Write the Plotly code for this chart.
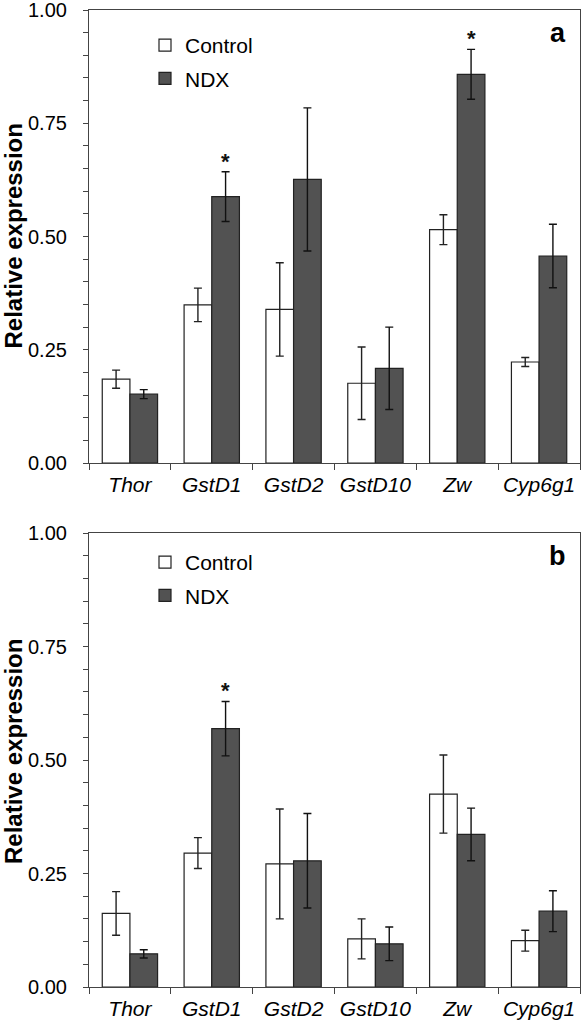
import plotly.graph_objects as go
from plotly.subplots import make_subplots

genes = ["Thor", "GstD1", "GstD2", "GstD10", "Zw", "Cyp6g1"]
gene_labels = ["<i>%s</i>" % g for g in genes]

# Panel a
a_control = [0.185, 0.349, 0.339, 0.176, 0.515, 0.223]
a_control_err = [0.020, 0.037, 0.103, 0.080, 0.033, 0.010]
a_ndx = [0.152, 0.588, 0.626, 0.209, 0.858, 0.457]
a_ndx_err = [0.010, 0.055, 0.158, 0.091, 0.055, 0.070]
a_sig = ["GstD1", "Zw"]

# Panel b
b_control = [0.162, 0.295, 0.271, 0.106, 0.425, 0.102]
b_control_err = [0.048, 0.034, 0.121, 0.044, 0.086, 0.023]
b_ndx = [0.073, 0.569, 0.278, 0.095, 0.336, 0.167]
b_ndx_err = [0.009, 0.060, 0.104, 0.037, 0.058, 0.045]
b_sig = ["GstD1"]

y_ticks = [0.0, 0.25, 0.5, 0.75, 1.0]
y_ticktext = ["0.00", "0.25", "0.50", "0.75", "1.00"]
y_title = "Relative expression"

FONT = "Liberation Sans, Arial, sans-serif"
DARK = "#525252"

W, H = 582, 1026
ML, MR, MT, MB = 89, 2, 10, 39
PW = W - ML - MR
PH = H - MT - MB
top_dom = [1 - 453 / PH, 1.0]
bot_dom = [0.0, 454 / PH]

fig = make_subplots(rows=2, cols=1, vertical_spacing=0.07)

panels = [
    (1, a_control, a_control_err, a_ndx, a_ndx_err, a_sig, "legend", "a", top_dom, 0.0),
    (2, b_control, b_control_err, b_ndx, b_ndx_err, b_sig, "legend2", "b", bot_dom, 8 / PH),
]

for row, ctl, ctl_e, ndx, ndx_e, sig, leg, letter, dom, tshift in panels:
    fig.add_trace(go.Bar(
        x=gene_labels, y=ctl, name="Control",
        marker=dict(color="white", line=dict(color="#222", width=1.2)),
        error_y=dict(type="data", array=ctl_e, color="#222", thickness=1.4, width=4),
        legend=leg, legendgroup="c%d" % row,
    ), row=row, col=1)
    fig.add_trace(go.Bar(
        x=gene_labels, y=ndx, name="NDX",
        marker=dict(color=DARK, line=dict(color="#222", width=1.2)),
        error_y=dict(type="data", array=ndx_e, color="#111", thickness=1.4, width=4),
        legend=leg, legendgroup="n%d" % row,
    ), row=row, col=1)
    xref = "x" if row == 1 else "x2"
    yref = "y" if row == 1 else "y2"
    for g in sig:
        i = genes.index(g)
        fig.add_annotation(
            x=gene_labels[i], y=ndx[i] + ndx_e[i], xref=xref, yref=yref,
            text="<b>*</b>", showarrow=False, xshift=14, yanchor="bottom",
            yshift=-4, font=dict(family=FONT, size=22, color="#111"),
        )
    fig.add_annotation(
        x=1 - 12 / PW, y=dom[1] - 6 / PH,
        xref="paper", yref="paper", text="<b>%s</b>" % letter,
        showarrow=False, xanchor="right", yanchor="top",
        font=dict(family=FONT, size=27, color="black"),
    )
    fig.add_annotation(
        x=(13 - ML) / PW, y=(dom[0] + dom[1]) / 2 + tshift,
        xref="paper", yref="paper", text="<b>%s</b>" % y_title,
        textangle=-90, showarrow=False, xanchor="center", yanchor="middle",
        font=dict(family=FONT, size=24, color="black"),
    )

axis_line = "#444"
for row in (1, 2):
    fig.update_xaxes(
        row=row, col=1, type="category", range=[-0.5, 5.5],
        showline=True, linecolor=axis_line, linewidth=1.2, mirror=True,
        ticks="outside", tickson="boundaries", ticklen=6, tickcolor=axis_line,
        tickfont=dict(family=FONT, size=21, color="black"),
        ticklabelstandoff=3,
        showgrid=False, zeroline=False,
    )
    fig.update_yaxes(
        row=row, col=1, range=[0, 1.0],
        tickvals=y_ticks, ticktext=y_ticktext,
        showline=True, linecolor=axis_line, linewidth=1.2, mirror=True,
        ticks="outside", ticklen=5, tickcolor=axis_line,
        minor=dict(dtick=0.05, tick0=0, ticks="outside", ticklen=5, tickcolor=axis_line, showgrid=False),
        tickfont=dict(family=FONT, size=20, color="black"),
        ticklabelstandoff=12, ticklabeloverflow="allow",
        showgrid=False, zeroline=False,
    )

fig.update_yaxes(domain=top_dom, row=1, col=1)
fig.update_yaxes(domain=bot_dom, row=2, col=1)

legend_style = dict(
    font=dict(family=FONT, size=21, color="black"),
    bgcolor="rgba(0,0,0,0)", tracegroupgap=3,
    xanchor="left", yanchor="top",
)
LX = (145 - ML) / PW
fig.update_layout(
    width=W, height=H,
    margin=dict(l=ML, r=MR, t=MT, b=MB, autoexpand=False),
    paper_bgcolor="white", plot_bgcolor="white",
    barmode="group", bargap=0.324, bargroupgap=0.0,
    showlegend=True,
    legend=dict(x=LX, y=top_dom[1] - 15 / PH, **legend_style),
    legend2=dict(x=LX, y=bot_dom[1] - 9 / PH, **legend_style),
    font=dict(family=FONT),
)

fig.write_html("out.html", config=dict(displayModeBar=False),
               post_script="document.body.style.margin='0px';")
